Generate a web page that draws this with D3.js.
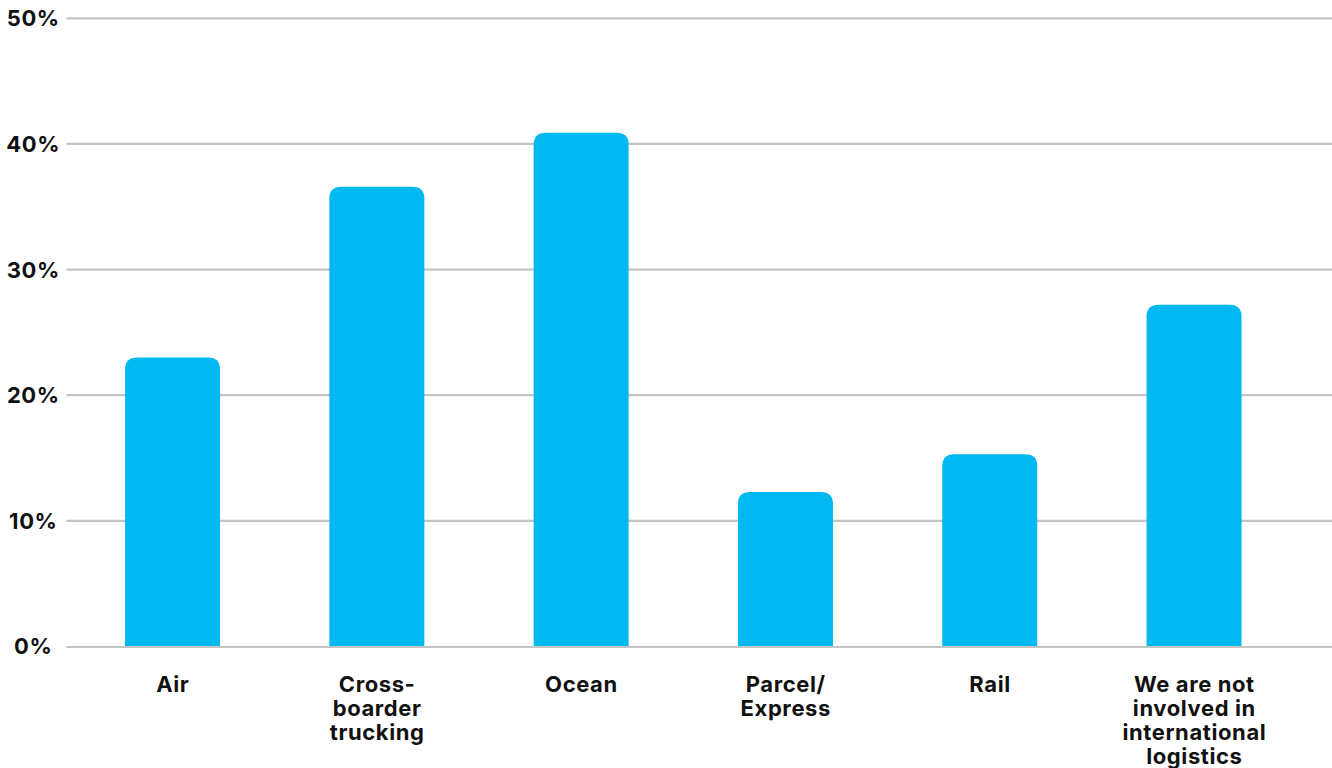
<!DOCTYPE html>
<html>
<head>
<meta charset="utf-8">
<script src="https://cdn.jsdelivr.net/npm/d3@7"></script>
<style>
  html, body { margin: 0; padding: 0; background: #fff; }
  svg { display: block; font-family: Inter, "Noto Sans", sans-serif; }
</style>
</head>
<body>
<svg id="chart" width="1332" height="768"></svg>
<script>
// Transport modes used for international logistics (share of respondents)
const categories = ["Air", "Cross-boarder trucking", "Ocean", "Parcel/Express", "Rail", "We are not involved in international logistics"];
const categoryLines = [
  ["Air"],
  ["Cross-", "boarder", "trucking"],
  ["Ocean"],
  ["Parcel/", "Express"],
  ["Rail"],
  ["We are not", "involved in", "international", "logistics"]
];
const values = [23.0, 36.6, 40.9, 12.3, 15.3, 27.2];
const yTicks = [0, 10, 20, 30, 40, 50];
const yTickLabels = ["0%", "10%", "20%", "30%", "40%", "50%"];

const svg = d3.select("#chart");

const y = d3.scaleLinear().domain([0, 50]).range([646.5, 18.3]);
const x = d3.scaleBand()
  .domain(categories)
  .range([70.4, 1296.2])
  .paddingInner(0.535)
  .paddingOuter(0.2675);

const gridX0 = 66.5, gridX1 = 1332;

// gridlines
svg.append("g").selectAll("line")
  .data(yTicks.filter(d => d !== 0))
  .join("line")
  .attr("x1", gridX0).attr("x2", gridX1)
  .attr("y1", d => y(d)).attr("y2", d => y(d))
  .attr("stroke", "#c4c4c4").attr("stroke-width", 2.2);

// bars with rounded top corners
const r = 12;
function barPath(d, i) {
  const x0 = x(categories[i]), w = x.bandwidth();
  const top = y(d), bottom = y(0);
  return `M${x0},${bottom} L${x0},${top + r} Q${x0},${top} ${x0 + r},${top}
          L${x0 + w - r},${top} Q${x0 + w},${top} ${x0 + w},${top + r} L${x0 + w},${bottom} Z`;
}
svg.append("g").selectAll("path")
  .data(values)
  .join("path")
  .attr("d", barPath)
  .attr("fill", "#00b9f1");

// baseline
svg.append("line")
  .attr("x1", gridX0).attr("x2", gridX1)
  .attr("y1", y(0) + 0.5).attr("y2", y(0) + 0.5)
  .attr("stroke", "#c4c4c4").attr("stroke-width", 2.2);

// y tick labels
svg.append("g").selectAll("text")
  .data(yTicks)
  .join("text")
  .attr("x", 33.3)
  .attr("y", d => y(d))
  .attr("dy", "0.36em")
  .attr("text-anchor", "middle")
  .attr("font-size", 22)
  .attr("font-weight", 700)
  .attr("letter-spacing", 0.6)
  .attr("fill", "#111")
  .text((d, i) => yTickLabels[i]);

// category labels
const labels = svg.append("g").selectAll("text")
  .data(categories)
  .join("text")
  .attr("x", d => x(d) + x.bandwidth() / 2)
  .attr("y", 691.8)
  .attr("text-anchor", "middle")
  .attr("font-size", 22)
  .attr("font-weight", 700)
  .attr("letter-spacing", 0.6)
  .attr("fill", "#111");
labels.each(function(d, i) {
  d3.select(this).selectAll("tspan")
    .data(categoryLines[i])
    .join("tspan")
    .attr("x", x(d) + x.bandwidth() / 2 + 0.3)
    .attr("dy", (t, j) => j === 0 ? 0 : 24)
    .text(t => t);
});
</script>
</body>
</html>
